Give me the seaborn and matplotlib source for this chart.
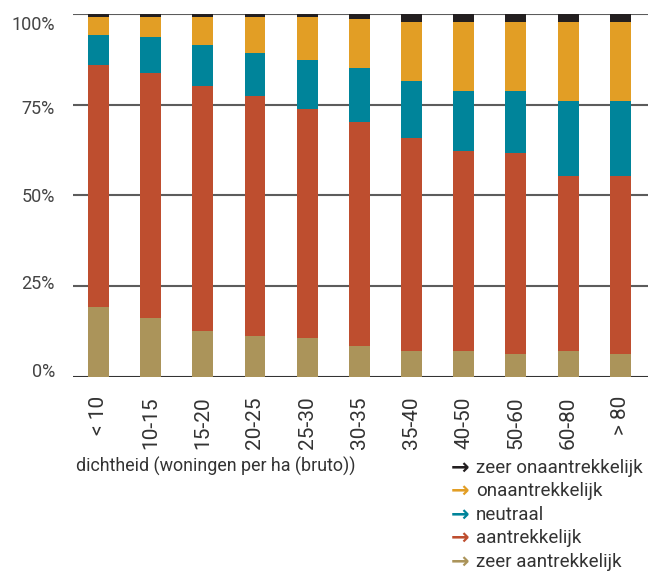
import matplotlib
matplotlib.use("Agg")
import matplotlib.pyplot as plt
from matplotlib.transforms import ScaledTranslation
import seaborn as sns
import pandas as pd
import numpy as np

# Density classes (dwellings per hectare, gross)
categories = ["< 10", "10-15", "15-20", "20-25", "25-30", "30-35",
              "35-40", "40-50", "50-60", "60-80", "> 80"]

# Share of respondents per appreciation level (%)
zeer_aantrekkelijk = [19.2, 16.2, 12.6, 11.2, 10.7, 8.5, 7.1, 7.1, 6.3, 7.1, 6.3]
aantrekkelijk = [66.7, 67.5, 67.6, 66.3, 63.1, 61.7, 58.8, 55.1, 55.4, 48.3, 49.1]
neutraal = [8.4, 10.0, 11.3, 11.7, 13.5, 14.9, 15.6, 16.6, 17.1, 20.6, 20.6]
onaantrekkelijk = [5.0, 5.6, 7.8, 10.1, 12.0, 13.5, 16.3, 19.0, 19.0, 21.8, 21.8]
zeer_onaantrekkelijk = [0.7, 0.7, 0.7, 0.7, 0.7, 1.4, 2.2, 2.2, 2.2, 2.2, 2.2]

series_names = ["zeer aantrekkelijk", "aantrekkelijk", "neutraal",
                "onaantrekkelijk", "zeer onaantrekkelijk"]
series_values = [zeer_aantrekkelijk, aantrekkelijk, neutraal,
                 onaantrekkelijk, zeer_onaantrekkelijk]
colors = ["#AB945A", "#BE4E2F", "#00849A", "#E29E25", "#231F20"]

y_ticks = [0, 25, 50, 75, 100]
y_ticklabels = ["0%", "25%", "50%", "75%", "100%"]

sns.set_theme(style="white")
plt.rcParams["font.family"] = ["Roboto", "DejaVu Sans"]

fig = plt.figure(figsize=(6.48, 5.71), dpi=100)
ax = fig.add_axes([0.1127, 0.3403, 0.8873, 0.6352])

# Stacked bars: draw cumulative totals from the top segment downwards
df = pd.DataFrame({"categorie": categories})
cum = np.cumsum(np.array(series_values), axis=0)
for name, top, color in reversed(list(zip(series_names, cum, colors))):
    df["waarde"] = top
    sns.barplot(data=df, x="categorie", y="waarde", color=color,
                width=0.40, linewidth=0, saturation=1, ax=ax, zorder=3)

ax.set_xlim(-0.485, 10.53)
ax.set_ylim(0, 100)
for s in ax.spines.values():
    s.set_visible(False)

for t in y_ticks:
    ax.axhline(t, color="#333333" if t == 0 else "#5c5c5c", lw=1.5, zorder=2)

ax.set_yticks(y_ticks)
ax.set_yticklabels(y_ticklabels, fontsize=13, color="#444444")
ax.tick_params(axis="y", length=0, pad=13)
# labels sit on a slightly compressed rhythm compared with the grid
label_shift_px = {0: 7, 25: 4, 50: 0, 75: -2, 100: -9}
for t, lab in zip(y_ticks, ax.get_yticklabels()):
    lab.set_transform(lab.get_transform() +
                      ScaledTranslation(0, label_shift_px[t] / 100, fig.dpi_scale_trans))

ax.set_xlabel("")
ax.set_ylabel("")
ax.tick_params(axis="x", length=0, pad=14)
ax.set_xticks(range(len(categories)))
ax.set_xticklabels(categories, rotation=90, fontsize=15, color="#333333")

fig.text(76 / 648, 1 - 466 / 571, "dichtheid (woningen per ha (bruto))",
         fontsize=12.9, color="#333333", va="center", ha="left")

# Legend: coloured arrows with labels
legend_y = [468, 491, 514.5, 538, 562]
for y, name, color in zip(legend_y, reversed(series_names), reversed(colors)):
    fig.text(451 / 648, 1 - y / 571, "\u2192", fontsize=16, fontweight="bold",
             color=color, va="center", ha="left", family="DejaVu Sans")
    fig.text(476 / 648, 1 - y / 571, name, fontsize=13.5, color="#333333",
             va="center", ha="left")

fig.savefig("out.png", dpi=100)
